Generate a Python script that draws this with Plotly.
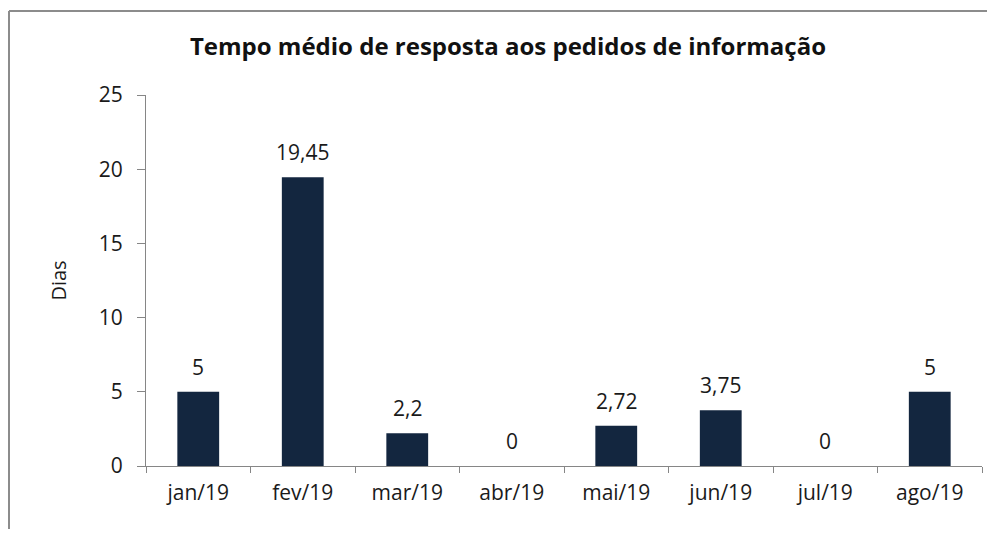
import plotly.graph_objects as go

# tempo medio de resposta (dias)
meses = ['jan/19', 'fev/19', 'mar/19', 'abr/19', 'mai/19', 'jun/19', 'jul/19', 'ago/19']
dias = [5, 19.45, 2.2, 0, 2.72, 3.75, 0, 5]
yticks = [0, 5, 10, 15, 20, 25]

fonte = 'Open Sans'
cor_barra = '#13263F'
cor_eixo = '#868686'
cor_texto = '#1a1a1a'

# a página tem 8px de margem no body: figura menor para não aparecer barra de rolagem
W, H = 979, 521

fig = go.Figure()
fig.add_bar(x=meses, y=dias, marker_color=cor_barra, marker_line_width=0)

# rótulos de dados com vírgula decimal
for m, v in zip(meses, dias):
    fig.add_annotation(x=m, y=v, text=f'{v:g}'.replace('.', ','), showarrow=False,
                       yshift=25, font=dict(family=fonte, size=21, color=cor_texto))

fig.update_layout(
    width=W, height=H,
    margin=dict(l=138, r=5, t=87, b=63),
    paper_bgcolor='white', plot_bgcolor='white',
    bargap=0.6,
    showlegend=False,
    title=dict(text='<b>Tempo médio de resposta aos pedidos de informação</b>',
               xref='container', x=(508 - 8) / W, xanchor='center',
               y=1 - 39 / H, yanchor='middle',
               font=dict(family=fonte, size=24, color='#111111')),
)
fig.update_xaxes(showline=True, linecolor=cor_eixo, linewidth=1,
                 ticks='outside', tickson='boundaries', ticklen=6, tickcolor=cor_eixo,
                 tickfont=dict(family=fonte, size=21, color=cor_texto),
                 showgrid=False, ticklabelstandoff=8, automargin=False)
fig.update_yaxes(range=[0, 25], tickvals=yticks, showline=True, linecolor=cor_eixo, linewidth=1,
                 ticks='outside', ticklen=8, tickcolor=cor_eixo, showgrid=False, zeroline=False,
                 tickfont=dict(family=fonte, size=21, color=cor_texto), ticklabelstandoff=10,
                 automargin=False,
                 title=dict(text='Dias', font=dict(family=fonte, size=20, color=cor_texto), standoff=26))

# moldura do gráfico (só topo e esquerda ficam visíveis)
borda = dict(color='#8c8c8c', width=2)
fig.add_shape(type='line', xref='paper', yref='paper', x0=-137/836, x1=1.1, y0=1 + 84/371, y1=1 + 84/371,
              line=borda)
fig.add_shape(type='line', xref='paper', yref='paper', x0=-137/836, x1=-137/836, y0=-0.3, y1=1 + 84/371,
              line=borda)

fig.write_html('out.html')
